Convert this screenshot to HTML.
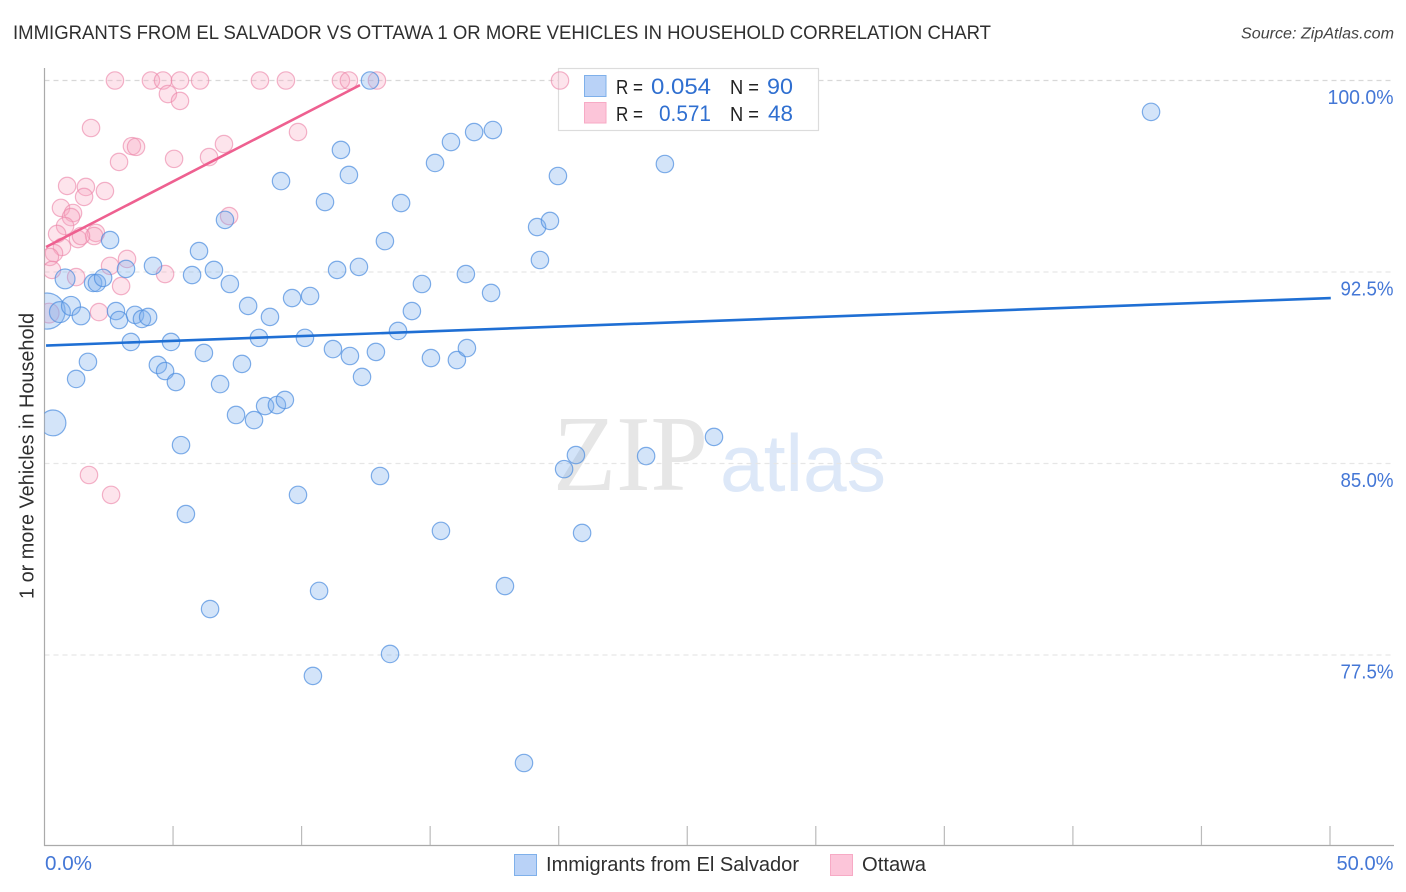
<!DOCTYPE html>
<html lang="en">
<head>
<meta charset="utf-8">
<title>Immigrants from El Salvador vs Ottawa correlation chart</title>
<style>
html,body{margin:0;padding:0;background:#fff;}
#chart{display:block;width:1406px;height:892px;font-family:"Liberation Sans",sans-serif;}
</style>
</head>
<body>
<svg id="chart" xmlns="http://www.w3.org/2000/svg" width="1406" height="892" viewBox="0 0 1406 892">
  <defs>
    <clipPath id="plot-clip"><rect x="44.5" y="60" width="1350" height="785"/></clipPath>
  </defs>
  <rect width="1406" height="892" fill="#fff"/>
  <text x="13" y="39" font-size="19.5" fill="#2f2f2f" textLength="978" lengthAdjust="spacingAndGlyphs">IMMIGRANTS FROM EL SALVADOR VS OTTAWA 1 OR MORE VEHICLES IN HOUSEHOLD CORRELATION CHART</text>
  <text x="1394" y="38.5" font-size="15.5" font-style="italic" fill="#444" text-anchor="end" textLength="153" lengthAdjust="spacingAndGlyphs">Source: ZipAtlas.com</text>
  <g>
    <text x="553" y="490" font-family="'Liberation Serif',serif" font-size="108" fill="#e6e6e6" textLength="155" lengthAdjust="spacingAndGlyphs">ZIP</text>
    <text x="720" y="491" font-size="81" fill="#dde8f8" textLength="166" lengthAdjust="spacingAndGlyphs">atlas</text>
  </g>
  <g id="grid"></g>
  <g>
    <rect x="558.5" y="68.5" width="260" height="62" fill="#fff" stroke="#dcdcdc" stroke-width="1.2"/>
    <rect x="584.5" y="75.5" width="21.5" height="21" fill="#b9d2f7" stroke="#7fb0ea" stroke-width="1"/>
    <rect x="584.5" y="102.5" width="21.5" height="20.5" fill="#fcc5d9" stroke="#f7aac5" stroke-width="1"/>
    <text x="616" y="94" font-size="20" fill="#222" textLength="27" lengthAdjust="spacingAndGlyphs">R =</text>
    <text x="651" y="94" font-size="22" fill="#2f6fd0" textLength="60" lengthAdjust="spacingAndGlyphs">0.054</text>
    <text x="730" y="94" font-size="20" fill="#222" textLength="29" lengthAdjust="spacingAndGlyphs">N =</text>
    <text x="767" y="94" font-size="22" fill="#2f6fd0" textLength="26" lengthAdjust="spacingAndGlyphs">90</text>
    <text x="616" y="121" font-size="20" fill="#222" textLength="27" lengthAdjust="spacingAndGlyphs">R =</text>
    <text x="659" y="121" font-size="22" fill="#2f6fd0" textLength="52" lengthAdjust="spacingAndGlyphs">0.571</text>
    <text x="730" y="121" font-size="20" fill="#222" textLength="29" lengthAdjust="spacingAndGlyphs">N =</text>
    <text x="768" y="121" font-size="22" fill="#2f6fd0" textLength="25" lengthAdjust="spacingAndGlyphs">48</text>
  </g>
  <g id="axes"></g>
  <g id="marks" clip-path="url(#plot-clip)"></g>
  <text transform="translate(33.5,456) rotate(-90)" font-size="20" fill="#2f2f2f" text-anchor="middle" textLength="286" lengthAdjust="spacingAndGlyphs">1 or more Vehicles in Household</text>
  <g>
    <rect x="514.5" y="854.5" width="22" height="21" fill="#b9d2f7" stroke="#7fb0ea" stroke-width="1"/>
    <text x="546" y="871" font-size="20" fill="#2f2f2f" textLength="253" lengthAdjust="spacingAndGlyphs">Immigrants from El Salvador</text>
    <rect x="830.5" y="854.5" width="22" height="21" fill="#fcc5d9" stroke="#f7aac5" stroke-width="1"/>
    <text x="862" y="871" font-size="20" fill="#2f2f2f" textLength="64" lengthAdjust="spacingAndGlyphs">Ottawa</text>
  </g>
</svg>
<script>
const xTicks = [0, 5, 10, 15, 20, 25, 30, 35, 40, 45, 50];
const xTickLabels = ["0.0%", "", "", "", "", "", "", "", "", "", "50.0%"];
const yTicks = [100, 92.5, 85, 77.5];
const yTickLabels = ["100.0%", "92.5%", "85.0%", "77.5%"];

const blueX = [0.10,0.33,0.60,1.03,1.42,0.80,1.89,2.04,2.28,2.55,3.17,2.78,2.90,3.52,3.79,4.03,4.22,3.36,4.92,1.69,1.23,4.41,4.69,5.11,6.20,6.83,7.68,8.34,5.74,6.59,7.21,6.01,7.02,9.20,7.92,8.77,9.63,10.13,7.45,8.15,8.58,9.04,9.35,5.31,5.50,9.86,6.44,10.68,10.44,13.44,18.65,17.91,15.42,20.91,20.21,20.67,23.40,26.04,13.05,11.22,11.88,12.35,12.89,13.75,15.03,16.04,16.43,14.29,10.33,11.38,12.23,14.68,16.39,17.37,19.27,19.16,19.66,19.97,24.13,43.04,17.44,16.71,15.81,15.19,13.87,13.24,11.84,11.53,10.91,12.66];
const blueY = [90.97,86.59,90.93,91.17,90.78,92.23,92.07,92.07,92.27,93.75,92.62,90.97,90.62,90.82,90.66,90.74,92.74,89.76,89.76,88.98,88.31,88.86,88.62,88.19,89.33,88.11,88.90,89.92,92.38,92.58,92.03,93.32,94.54,96.06,91.17,90.74,91.48,89.92,86.90,86.70,87.25,87.29,87.49,85.72,83.02,83.77,79.30,80.01,76.68,77.54,73.27,80.20,82.36,82.28,84.78,85.33,85.29,86.04,84.51,89.48,89.21,88.39,89.37,90.19,89.13,89.05,89.52,90.97,91.56,92.58,92.70,92.03,92.42,91.68,92.97,94.26,94.50,96.26,96.73,98.77,98.06,97.98,97.59,96.77,95.20,93.71,96.30,97.28,95.24,100];
const blueWeight = [4.3,2.2,1.45,1.2,1.05,1.3];

const pinkX = [0.18,2.74,4.14,4.61,5.27,6.05,8.38,9.39,11.53,11.84,12.93,20.05,4.80,5.27,1.81,3.40,3.56,2.90,5.04,6.40,6.98,9.86,7.18,0.88,1.61,1.54,2.35,0.64,1.11,1.03,0.80,0.49,1.30,2.00,1.93,1.42,0.68,0.37,0.21,0.29,1.23,2.55,3.21,4.69,2.98,2.12,1.73,2.59];
const pinkY = [90.89,100,100,100,100,100,100,100,100,100,100,100,99.47,99.20,98.14,97.43,97.40,96.81,96.93,97.00,97.51,97.98,94.69,95.87,95.83,95.44,95.67,95.01,94.81,94.65,94.30,93.99,93.79,94.03,93.91,93.91,93.48,93.24,93.09,92.58,92.30,92.74,93.01,92.42,91.95,90.93,84.55,83.77];
const pinkWeight = [1.3];

const blueTrendX = [0.06, 50.03];
const blueTrendY = [89.62, 91.48];
const pinkTrendX = [0.06, 12.27];
const pinkTrendY = [93.48, 99.82];

const SVGNS = "http://www.w3.org/2000/svg";
const xScale = v => 44.5 + v * 25.71;
const yScale = v => 80.5 + (100 - v) * (191.5 / 7.5);
const baseRadius = 8.7;

function svgEl(tag, parent, attrs) {
  const el = document.createElementNS(SVGNS, tag);
  for (const k in attrs) el.setAttribute(k, attrs[k]);
  parent.appendChild(el);
  return el;
}

const gridG = document.getElementById("grid");
yTicks.forEach(function (t) {
  const line = svgEl("line", gridG, {
    x1: 44.5, x2: 1394, y1: yScale(t), y2: yScale(t),
    stroke: t === 100 ? "#d8d8d8" : "#e6e6e6", "stroke-width": 1.2, "stroke-dasharray": "5 4"
  });
  
  
});

const axesG = document.getElementById("axes");
const yAxis = svgEl("line", axesG, { x1: 44.5, x2: 44.5, y1: 68, y2: 846, stroke: "#aaa", "stroke-width": 1.2 });


const xAxis = svgEl("line", axesG, { x1: 44, x2: 1394, y1: 845.5, y2: 845.5, stroke: "#aaa", "stroke-width": 1.2 });



xTicks.forEach(function (t, i) {
  if (i > 0) {
    const tick = svgEl("line", axesG, { x1: xScale(t), x2: xScale(t), y1: 826, y2: 845, stroke: "#bbb", "stroke-width": 1.2 });
    
    
  }
  if (xTickLabels[i]) {
    const label = svgEl("text", axesG, {
      x: i === 0 ? 45 : 1393.5, y: 870, "font-size": 20, fill: "#4477d6",
      "text-anchor": i === 0 ? "start" : "end",
      textLength: i === 0 ? 47 : 57, lengthAdjust: "spacingAndGlyphs"
    });
    label.textContent = xTickLabels[i];
    
    
  }
});

yTicks.forEach(function (t, i) {
  const label = svgEl("text", axesG, {
    x: 1393.5, y: yScale(t) + 23.5, "font-size": 20, fill: "#4477d6", "text-anchor": "end",
    textLength: i === 0 ? 66 : 53, lengthAdjust: "spacingAndGlyphs"
  });
  label.textContent = yTickLabels[i];
  
  
});

const marksG = document.getElementById("marks");

pinkX.forEach(function (x, i) {
  const w = pinkWeight[i] === undefined ? 1 : pinkWeight[i];
  const c = svgEl("circle", marksG, {
    cx: xScale(x), cy: yScale(pinkY[i]), r: baseRadius * Math.sqrt(w),
    fill: "#f8a5c0", "fill-opacity": 0.3, stroke: "#ec85a8", "stroke-opacity": 0.62, "stroke-width": 1.2
  });
  
  
});

blueX.forEach(function (x, i) {
  const w = blueWeight[i] === undefined ? 1 : blueWeight[i];
  const c = svgEl("circle", marksG, {
    cx: xScale(x), cy: yScale(blueY[i]), r: baseRadius * Math.sqrt(w),
    fill: "#7fb0ee", "fill-opacity": 0.34, stroke: "#4f8fdf", "stroke-opacity": 0.72, "stroke-width": 1.2
  });
  
  
});

const pinkTrend = svgEl("line", marksG, {
  x1: xScale(pinkTrendX[0]), y1: yScale(pinkTrendY[0]), x2: xScale(pinkTrendX[1]), y2: yScale(pinkTrendY[1]),
  stroke: "#ee6090", "stroke-width": 2.6
});



const blueTrend = svgEl("line", marksG, {
  x1: xScale(blueTrendX[0]), y1: yScale(blueTrendY[0]), x2: xScale(blueTrendX[1]), y2: yScale(blueTrendY[1]),
  stroke: "#1f6fd4", "stroke-width": 2.6
});


</script>
</body>
</html>
